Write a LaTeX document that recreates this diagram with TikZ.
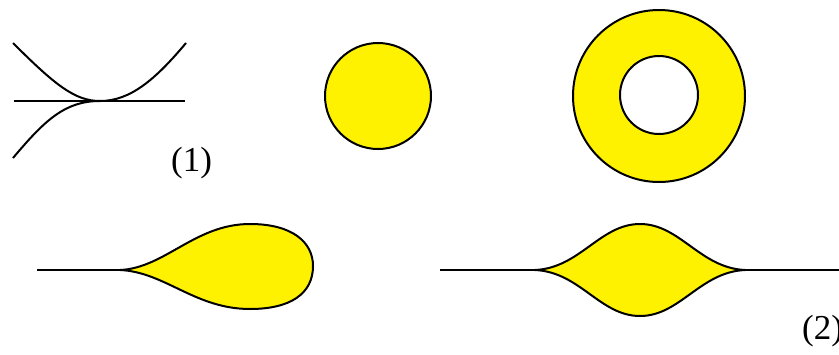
\documentclass[tikz,border=0pt]{standalone}
\usepackage{fontspec}
\setmainfont{Liberation Serif}
\begin{document}
\begin{tikzpicture}[x=1pt,y=-1pt,
  curve/.style={line width=2pt,black},
  blob/.style={line width=2pt,draw=black,fill=yellow},
  lbl/.style={inner sep=0pt,font=\fontsize{35}{40}\selectfont}]
\useasboundingbox (0,0) rectangle (839,354);
% panel 1
\coordinate (l1) at (14,101);
\coordinate (r1) at (185,101);
\coordinate (t) at (100,101);
\coordinate (ul) at (13,43);
\coordinate (ur) at (186,43);
\coordinate (dl) at (13,158);
\draw[curve] (l1) -- (r1);
\draw[curve] (ul) .. controls (55,85) and (75,101) .. (t) .. controls (130,101) and (155,80) .. (ur);
\draw[curve] (dl) .. controls (45,120) and (65,101) .. (t);
\node[lbl] (n1) at (191.5,163) {(1)};
% disc
\node[circle,blob,minimum size=106pt,inner sep=0pt] (disc) at (378,96) {};
% annulus
\fill[yellow,even odd rule] (659,96) circle (86) (659,95) circle (39);
\node[circle,line width=2pt,draw,minimum size=172pt,inner sep=0pt] (outer) at (659,96) {};
\node[circle,line width=2pt,draw,minimum size=78pt,inner sep=0pt] (inner) at (659,95) {};
% teardrop
\coordinate (a1) at (37,270);
\coordinate (c1) at (120,270);
\draw[curve] (a1) -- (c1);
\draw[blob] (c1) .. controls (165,268) and (195,224) .. (250,224)
  .. controls (292,224) and (313,242) .. (313,266)
  .. controls (313,294) and (290,309) .. (250,309)
  .. controls (195,309) and (165,272) .. (c1) -- cycle;
% lens
\coordinate (a2) at (440,270);
\coordinate (b2) at (839,270);
\coordinate (c2) at (535,270);
\coordinate (d2) at (745,270);
\draw[curve] (a2) -- (c2);
\draw[curve] (d2) -- (b2);
\draw[blob] (c2) .. controls (580,268) and (600,224) .. (640,224)
  .. controls (680,224) and (700,268) .. (d2)
  .. controls (700,272) and (680,316) .. (640,316)
  .. controls (600,316) and (580,272) .. (c2) -- cycle;
\node[lbl,anchor=west] (n2) at (802,331) {(2)};
\end{tikzpicture}
\end{document}
